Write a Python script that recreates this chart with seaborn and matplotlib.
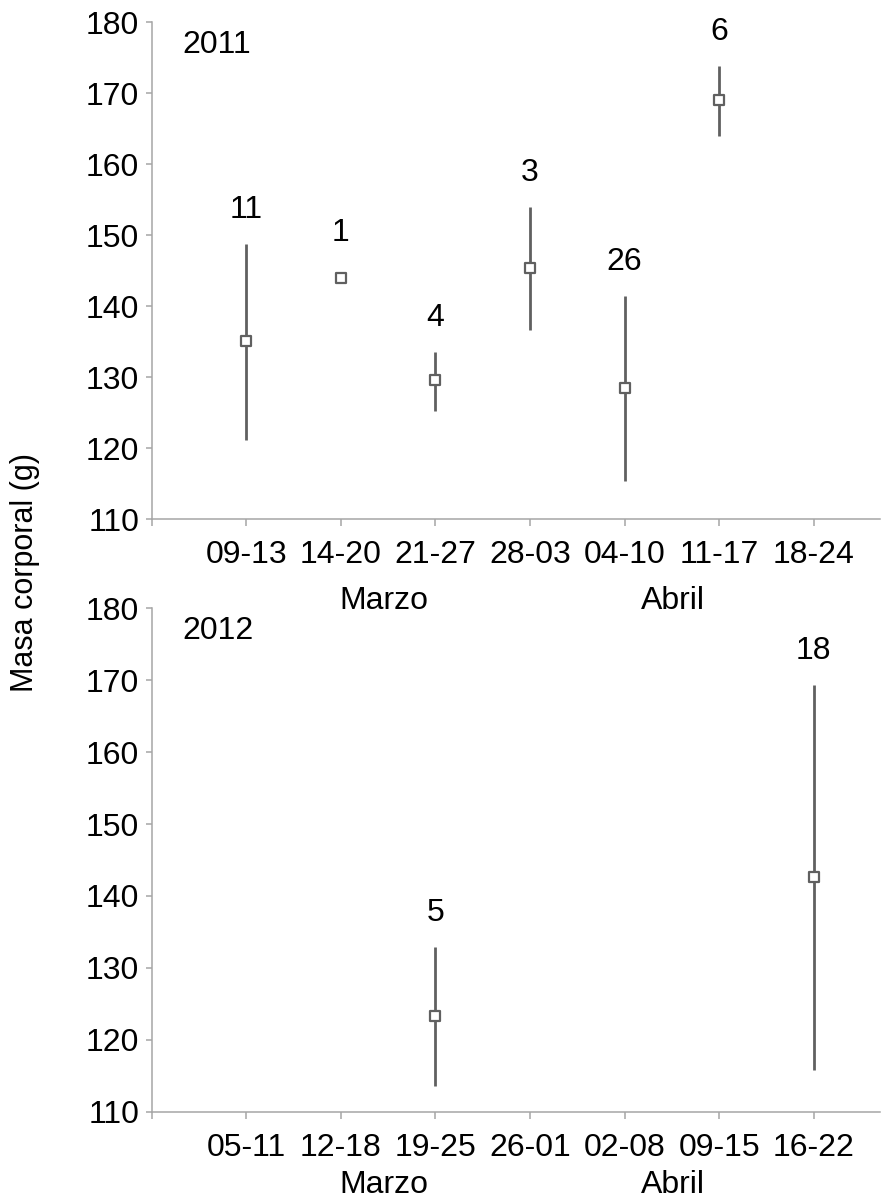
import numpy as np
import pandas as pd
import matplotlib
matplotlib.use("Agg")
import matplotlib.pyplot as plt
import seaborn as sns

# Weekly body mass (mean and range) with sample sizes
weeks_2011 = ["09-13", "14-20", "21-27", "28-03", "04-10", "11-17", "18-24"]
mean_2011 = [135.1, 144.0, 129.6, 145.4, 128.5, 169.0, np.nan]
low_2011 = [121.2, np.nan, 125.2, 136.6, 115.4, 164.0, np.nan]
high_2011 = [148.8, np.nan, 133.6, 154.0, 141.5, 173.9, np.nan]
n_2011 = [11, 1, 4, 3, 26, 6, None]

weeks_2012 = ["05-11", "12-18", "19-25", "26-01", "02-08", "09-15", "16-22"]
mean_2012 = [np.nan, np.nan, 123.3, np.nan, np.nan, np.nan, 142.6]
low_2012 = [np.nan, np.nan, 113.6, np.nan, np.nan, np.nan, 115.8]
high_2012 = [np.nan, np.nan, 132.9, np.nan, np.nan, np.nan, 169.3]
n_2012 = [None, None, 5, None, None, None, 18]

months = ["Marzo", "Abril"]
yticks = [110, 120, 130, 140, 150, 160, 170, 180]

sns.set_theme(style="white")
plt.rcParams["font.family"] = ["Liberation Sans", "DejaVu Sans"]

FS = 23
SPINE = "#a6a6a6"
BAR = "#606060"

fig = plt.figure(figsize=(8.87, 12), dpi=100)
W, H = 887, 1200
LEFT, RIGHT = 151.7, 880


def px_axes(left, top, right, bottom):
    return fig.add_axes([left / W, 1 - bottom / H, (right - left) / W, (bottom - top) / H])


ax1 = px_axes(LEFT, 22.3, RIGHT, 519.3)
ax2 = px_axes(LEFT, 608.3, RIGHT, 1111.7)


def draw_panel(ax, year, weeks, mean, low, high, n):
    df = pd.DataFrame({
        "pos": np.arange(1, len(weeks) + 1),
        "week": weeks,
        "mean": mean,
        "low": low,
        "high": high,
    })
    rng = df.dropna(subset=["low", "high"])
    ax.vlines(rng["pos"], rng["low"], rng["high"], color=BAR, lw=2.0, zorder=2)
    pts = df.dropna(subset=["mean"])
    sns.scatterplot(data=pts, x="pos", y="mean", ax=ax, marker="s", s=62,
                    facecolor="white", edgecolor=BAR, linewidth=1.6, zorder=3,
                    legend=False)
    for p, m, hi, cnt in zip(df["pos"], df["mean"], df["high"], n):
        if cnt is None:
            continue
        if np.isnan(hi):
            top, off = m, 32
        else:
            top, off = hi, 24.5
        ax.annotate(str(cnt), (p, top), xytext=(0, off), textcoords="offset points",
                    ha="center", va="center", fontsize=FS, color="black")

    ax.set_xlim(0, 7.7)
    ax.set_ylim(110, 180)
    ax.set_yticks(yticks)
    ax.set_yticklabels([str(v) for v in yticks], fontsize=FS, color="black")
    ax.set_xticks(range(0, 8))
    ax.set_xticklabels([""] + weeks, fontsize=FS, color="black")
    ax.set_xlabel("")
    ax.set_ylabel("")
    for side in ["top", "right"]:
        ax.spines[side].set_visible(False)
    for side in ["left", "bottom"]:
        ax.spines[side].set_color(SPINE)
        ax.spines[side].set_linewidth(1.1)
    ax.tick_params(axis="y", direction="out", length=4, width=1.1, color=SPINE,
                   pad=5, left=True)
    ax.tick_params(axis="x", direction="out", length=5, width=1.1, color=SPINE,
                   pad=10, bottom=True)
    ax.text((182 - LEFT) / (RIGHT - LEFT), 0.955, year, transform=ax.transAxes,
            ha="left", va="center", fontsize=FS, color="black")


draw_panel(ax1, "2011", weeks_2011, mean_2011, low_2011, high_2011, n_2011)
draw_panel(ax2, "2012", weeks_2012, mean_2012, low_2012, high_2012, n_2012)

# month captions beneath the week labels
for ax, ypix in [(ax1, 601), (ax2, 1185)]:
    for xd, name in zip([2.45, 5.5], months):
        xpix = LEFT + xd * 94.7
        fig.text(xpix / W, 1 - ypix / H, name, ha="center", va="center",
                 fontsize=FS, color="black")

fig.text(25 / W, 1 - 572 / H, "Masa corporal (g)", rotation=90, ha="center",
         va="center", fontsize=FS - 1, color="black")

fig.savefig("out.png", dpi=100, facecolor="white")
